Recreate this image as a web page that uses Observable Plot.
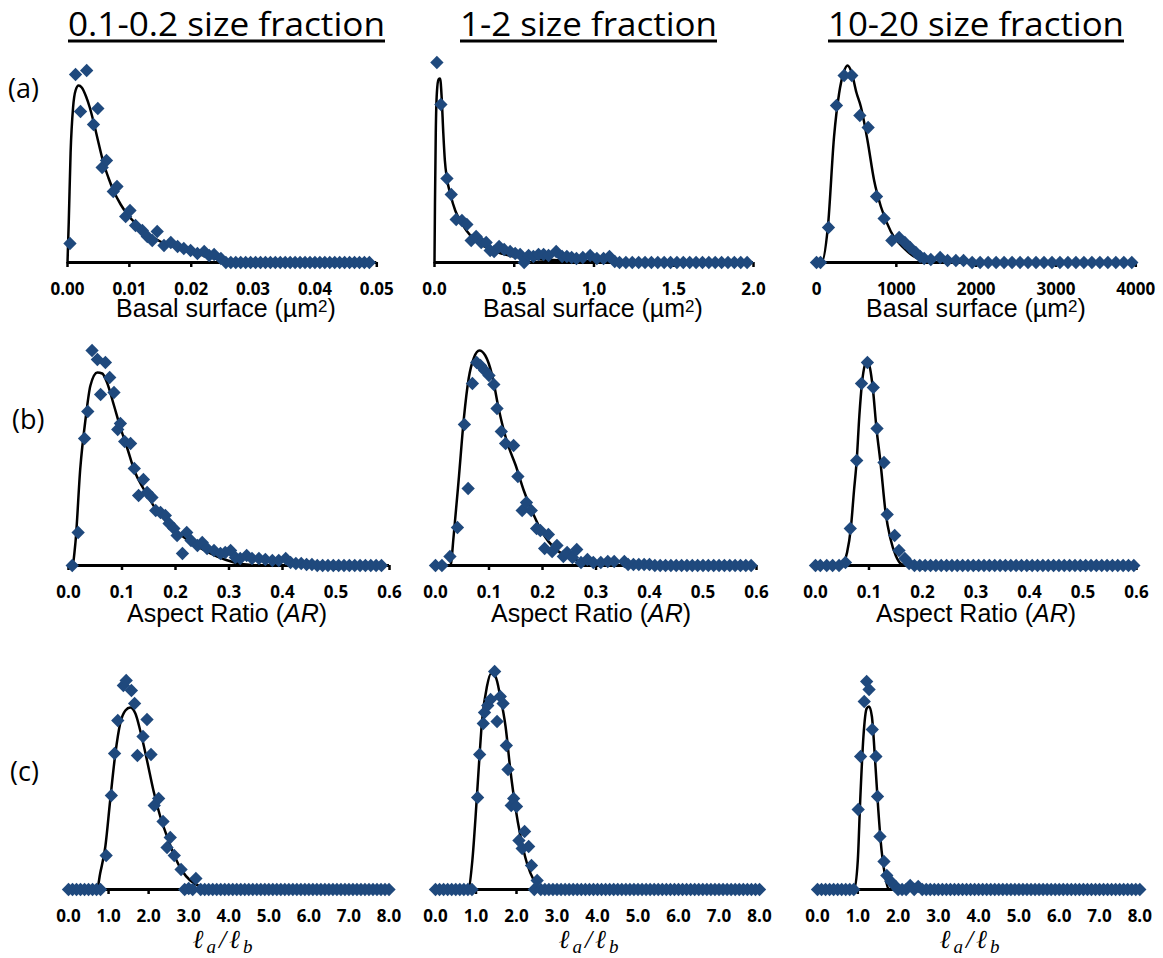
<!DOCTYPE html>
<html><head><meta charset="utf-8">
<script src="https://cdn.jsdelivr.net/npm/d3@7"></script>
<script src="https://cdn.jsdelivr.net/npm/@observablehq/plot@0.6"></script>
<style>
html,body{margin:0;padding:0;background:#fff;}
#wrap{position:relative;width:1163px;height:958px;overflow:hidden;background:#fff;}
#overlay{position:absolute;left:0;top:0;pointer-events:none;}
</style></head>
<body><div id="wrap"></div>
<script>
// ---------- text ----------
const colTitles = ["0.1-0.2 size fraction", "1-2 size fraction", "10-20 size fraction"];
const rowLabels = ["(a)", "(b)", "(c)"];
const basalLabel = ["Basal surface (µm", "2", ")"];
const arLabel = ["Aspect Ratio (", "AR", ")"];
const ratioLabel = ["ℓ", "a", "/ℓ", "b"];

// ---------- tick values ----------
const a1Ticks = [0, 0.01, 0.02, 0.03, 0.04, 0.05];
const a2Ticks = [0, 0.5, 1.0, 1.5, 2.0];
const a3Ticks = [0, 1000, 2000, 3000, 4000];
const bTicks = [0, 0.1, 0.2, 0.3, 0.4, 0.5, 0.6];
const cTicks = [0, 1, 2, 3, 4, 5, 6, 7, 8];

// ---------- (a) basal surface ----------
const a1PointX = [0.0004,0.0013,0.0021,0.0031,0.0042,0.0049,0.0056,0.0063,0.0074,0.0080,0.0094,0.0101,0.0110,0.0121,0.0129,0.0137,0.0145,0.0156,0.0167,0.0178,0.0188,0.0199,0.0210,0.0221,0.0229,0.0237,0.0248,
  0.0256,0.0264,0.0272,0.0280,0.0288,0.0296,0.0304,0.0312,0.0320,0.0328,0.0336,0.0344,0.0352,0.0360,0.0368,0.0376,0.0384,0.0392,0.0400,0.0408,0.0416,0.0424,0.0432,0.0440,0.0448,0.0456,0.0464,0.0472,0.0480,0.0488];
const a1PointY = [19,188,151,192,138,154,95,102,71,76,46,52,37,32,26,22,31,17,20,16,14,12,9,11,7,8,4,
  0,0,0,0,0,0,0,0,0,0, 0,0,0,0,0,0,0,0,0,0, 0,0,0,0,0,0,0,0,0,0];
const a1CurveX = [0,0.0002,0.0005,0.0009,0.0013,0.0018,0.0023,0.0030,0.0036,0.0042,0.0050,0.0058,0.0066,0.0075,0.0086,0.0097,0.0110,0.0129,0.0150,0.0175,0.0200,0.0226,0.0250,0.0280];
const a1CurveY = [0,40,110,155,172,177,175,166,155,141,120,100,85,71,58,48,39,29,21,15,10,6,2,0];

const a2PointX = [0.015,0.040,0.078,0.105,0.136,0.172,0.203,0.230,0.261,0.293,0.324,0.349,0.374,0.405,0.437,0.474,0.506,0.537,0.562,0.590,0.620,0.652,0.684,0.715,0.763,0.800,0.830,0.860,0.890,0.930,0.976,1.018,1.060,1.097,1.130,
  1.16,1.20,1.24,1.28,1.32,1.36,1.40,1.44,1.48,1.52,1.56,1.60,1.64,1.68,1.72,1.76,1.80,1.84,1.88,1.92,1.96];
const a2PointY = [200,158,84,68,43,42,38,22,26,20,20,12,11,16,13,11,9,8,0,7,6,8,8,7,11,6,6,5,4,5,7,4,4,6,1,
  0,0,0,0,0,0,0,0,0,0, 0,0,0,0,0,0,0,0,0,0, 0];
const a2CurveX = [0,0.003,0.008,0.015,0.025,0.035,0.045,0.055,0.065,0.078,0.100,0.130,0.160,0.200,0.250,0.300,0.350,0.400,0.500,0.600,0.800,1.000,1.200,1.500];
const a2CurveY = [0,60,130,170,183,184,165,130,102,84,68,52,42,32,23,17,13,10,6,4,2,1,0.3,0];

const a3PointX = [0,50,150,250,346,442,543,647,752,847,944,1035,1107,1173,1244,1298,1349,1432,1549,1642,1746,1842,
  1950,2050,2150,2250,2350,2450,2550,2650,2750,2850,2950,3050,3150,3250,3350,3450,3550,3650,3750,3850,3950];
const a3PointY = [0,0,35,157,187,187,147,135,66,44,22,25,20,15,10,6,4,3,5,2,2,2,
  0,0,0,0,0,0,0,0,0,0, 0,0,0,0,0,0,0,0,0,0, 0];
const a3CurveX = [0,63,143,220,283,340,388,440,500,555,639,722,806,931,1098,1265,1390,1560];
const a3CurveY = [0,0,36,126,169,190,197,190,170,156,122,82,56,31,14,4,1,0];

// ---------- (b) aspect ratio ----------
const b1PointX = [0.007,0.018,0.030,0.036,0.044,0.054,0.060,0.069,0.077,0.085,0.092,0.097,0.105,0.116,0.123,0.131,0.140,0.147,0.156,0.163,0.172,0.181,0.188,0.197,0.203,0.213,0.221,0.229,0.241,0.250,0.259,0.272,0.284,0.293,0.303,0.312,0.321,0.333,0.343,0.356,0.368,0.381,0.393,0.406,0.415,
  0.425,0.435,0.445,0.455,0.465,0.475,0.485,0.495,0.505,0.515,0.525,0.535,0.545,0.555,0.565,0.575,0.585];
const b1PointY = [0,33,127,154,215,206,171,203,188,173,136,142,124,122,97,70,86,73,68,55,53,50,42,37,30,12,33,25,20,23,17,15,12,13,15,8,7,10,7,7,6,5,5,7,3,
  2,2,1,1,0,0,0,0,0,0, 0,0,0,0,0,0,0];
const b1CurveX = [0,0.007,0.013,0.022,0.032,0.041,0.054,0.063,0.072,0.085,0.097,0.110,0.123,0.141,0.160,0.184,0.209,0.241,0.278,0.310,0.350];
const b1CurveY = [0,0,23,97,147,180,193,192,183,160,138,117,95,76,59,43,31,19,9,3,0];

const b2PointX = [0,0.012,0.027,0.041,0.054,0.061,0.069,0.077,0.084,0.092,0.100,0.109,0.115,0.123,0.131,0.146,0.154,0.162,0.170,0.179,0.189,0.196,0.204,0.211,0.218,0.227,0.239,0.246,0.256,0.264,0.272,0.284,0.295,0.309,0.322,0.334,0.353,
  0.36,0.37,0.38,0.39,0.40,0.41,0.42,0.43,0.44,0.45,0.46,0.47,0.48,0.49,0.50,0.51,0.52,0.53,0.54,0.55,0.56,0.57,0.58,0.59];
const b2PointY = [0,0,9,38,141,77,182,203,200,195,190,181,157,134,122,120,89,55,63,55,37,35,17,31,14,20,9,13,8,16,3,6,3,3,4,4,4,
  1,1,1,1,1,0,0,0,0,0, 0,0,0,0,0,0,0,0,0,0, 0,0,0,0];
const b2CurveX = [0,0.028,0.034,0.044,0.053,0.062,0.072,0.082,0.093,0.106,0.118,0.134,0.150,0.165,0.184,0.202,0.221,0.246,0.271,0.296,0.320];
const b2CurveY = [0,0,30,90,147,187,208,215,210,190,157,123,100,75,50,31,18,9,4,1,0];

const b3PointX = [0,0.009,0.021,0.032,0.044,0.056,0.065,0.077,0.086,0.097,0.108,0.115,0.128,0.134,0.148,0.156,0.167,0.175,
  0.185,0.195,0.205,0.215,0.225,0.235,0.245,0.255,0.265,0.275,0.285,0.295,0.305,0.315,0.325,0.335,0.345,0.355,0.365,0.375,
  0.385,0.395,0.405,0.415,0.425,0.435,0.445,0.455,0.465,0.475,0.485,0.495,0.505,0.515,0.525,0.535,0.545,0.555,0.565,0.575,0.585,0.595];
const b3PointY = [0,0,0,0,0,3,37,105,182,203,178,137,103,51,30,15,7,2,
  0,0,0,0,0,0,0,0,0,0, 0,0,0,0,0,0,0,0,0,0, 0,0,0,0,0,0,0,0,0,0, 0,0,0,0,0,0,0,0,0,0, 0,0];
const b3CurveX = [0,0.048,0.053,0.059,0.066,0.072,0.077,0.082,0.087,0.092,0.097,0.102,0.107,0.114,0.1215,0.131,0.140,0.150,0.159,0.168];
const b3CurveY = [0,0,3,13,37,75,105,150,183,200,205,197,178,137,103,53,27,10,2,0];

// ---------- (c) la/lb ----------
const c1PointX = [0.0,0.1,0.2,0.3,0.4,0.5,0.6,0.7,0.8,
  0.94,1.07,1.15,1.23,1.37,1.44,1.57,1.65,1.72,1.86,1.96,2.06,2.14,2.25,2.36,2.46,2.54,2.64,2.81,2.9,3.0,3.1,3.18,
  3.3,3.4,3.5,3.6,3.7,3.8,3.9,4.0,4.1,4.2,4.3,4.4,4.5,4.6,4.7,4.8,4.9,5.0,5.1,5.2,5.3,5.4,5.5,5.6,5.7,5.8,5.9,6.0,6.1,6.2,6.3,6.4,6.5,6.6,6.7,6.8,6.9,7.0,7.1,7.2,7.3,7.4,7.5,7.6,7.7,7.8,7.9,8.0];
const c1PointY = [0,0,0,0,0,0,0,0,0,
  34,94,136,169,204,209,199,186,134,153,170,135,84,91,68,42,52,34,20,0,1,0,11,
  0,0,0,0,0,0,0,0,0,0, 0,0,0,0,0,0,0,0,0,0, 0,0,0,0,0,0,0,0,0,0, 0,0,0,0,0,0,0,0,0,0, 0,0,0,0,0,0,0,0];
const c1CurveX = [0,0.71,0.79,0.92,1.04,1.17,1.29,1.42,1.54,1.67,1.79,1.96,2.12,2.29,2.46,2.62,2.83,3.04,3.29,3.54];
const c1CurveY = [0,0,16,43,89,136,166,179,182,176,159,129,99,73,53,36,19,9,3,0];

const c2PointX = [0.0,0.1,0.2,0.3,0.4,0.5,0.6,0.7,0.8,0.9,
  1.04,1.09,1.18,1.21,1.29,1.36,1.46,1.52,1.60,1.67,1.75,1.79,1.87,1.93,2.00,2.06,2.14,2.20,2.30,2.37,2.44,2.51,
  2.6,2.7,2.8,2.9,3.0,3.1,3.2,
  3.3,3.4,3.5,3.6,3.7,3.8,3.9,4.0,4.1,4.2,4.3,4.4,4.5,4.6,4.7,4.8,4.9,5.0,5.1,5.2,5.3,5.4,5.5,5.6,5.7,5.8,5.9,6.0,6.1,6.2,6.3,6.4,6.5,6.6,6.7,6.8,6.9,7.0,7.1,7.2,7.3,7.4,7.5,7.6,7.7,7.8,7.9,8.0];
const c2PointY = [0,0,0,0,0,0,0,0,0,0,
  92,135,166,177,184,190,218,168,193,186,144,120,84,91,83,49,41,58,43,24,0,9,
  0,0,0,0,0,0,0,
  0,0,0,0,0,0,0,0,0,0, 0,0,0,0,0,0,0,0,0,0, 0,0,0,0,0,0,0,0,0,0, 0,0,0,0,0,0,0,0,0,0, 0,0,0,0,0,0,0,0];
const c2CurveX = [0,0.80,0.91,0.99,1.07,1.15,1.27,1.37,1.48,1.60,1.73,1.85,1.97,2.10,2.26,2.43,2.59,2.75];
const c2CurveY = [0,0,29,73,123,169,203,216,213,193,163,119,83,53,26,9,1,0];

const c3PointX = [0.0,0.1,0.2,0.3,0.4,0.5,0.6,0.7,0.8,0.9,
  1.01,1.07,1.16,1.22,1.28,1.36,1.45,1.49,1.55,1.65,1.72,1.82,1.94,
  2.0,2.1,2.2,2.3,2.4,2.5,2.6,2.7,2.8,2.9,3.0,3.1,3.2,
  3.3,3.4,3.5,3.6,3.7,3.8,3.9,4.0,4.1,4.2,4.3,4.4,4.5,4.6,4.7,4.8,4.9,5.0,5.1,5.2,5.3,5.4,5.5,5.6,5.7,5.8,5.9,6.0,6.1,6.2,6.3,6.4,6.5,6.6,6.7,6.8,6.9,7.0,7.1,7.2,7.3,7.4,7.5,7.6,7.7,7.8,7.9,8.0];
const c3PointY = [0,0,0,0,0,0,0,0,0,0,
  80,133,188,208,200,160,133,93,53,28,14,8,3,
  0,0,0,4,0,3,0,0,0,0,0,0,0,
  0,0,0,0,0,0,0,0,0,0, 0,0,0,0,0,0,0,0,0,0, 0,0,0,0,0,0,0,0,0,0, 0,0,0,0,0,0,0,0,0,0, 0,0,0,0,0,0,0,0];
const c3CurveX = [0,0.91,1.00,1.06,1.14,1.22,1.28,1.35,1.43,1.51,1.59,1.68,1.76,1.84];
const c3CurveY = [0,0,29,89,153,181,183,173,129,79,39,13,1,0];

// ---------- layout (pixel placement of each panel's axis) ----------
const layout = {
  a1: {left: 66.7, right: 376, base: 262.3},
  a2: {left: 434.3, right: 753.3, base: 262.3},
  a3: {left: 815.7, right: 1135, base: 262.3},
  b1: {left: 68, right: 389, base: 565},
  b2: {left: 435, right: 756, base: 565},
  b3: {left: 815, right: 1136, base: 565},
  c1: {left: 67.5, right: 388, base: 889.3},
  c2: {left: 435, right: 759, base: 889.3},
  c3: {left: 816.7, right: 1139, base: 889.3}
};

const panels = [
  {key: "a1", px: a1PointX, py: a1PointY, cx: a1CurveX, cy: a1CurveY, domain: [0, 0.05], ticks: a1Ticks, fmt: ".2f"},
  {key: "a2", px: a2PointX, py: a2PointY, cx: a2CurveX, cy: a2CurveY, domain: [0, 2], ticks: a2Ticks, fmt: ".1f"},
  {key: "a3", px: a3PointX, py: a3PointY, cx: a3CurveX, cy: a3CurveY, domain: [0, 4000], ticks: a3Ticks, fmt: "d"},
  {key: "b1", px: b1PointX, py: b1PointY, cx: b1CurveX, cy: b1CurveY, domain: [0, 0.6], ticks: bTicks, fmt: ".1f"},
  {key: "b2", px: b2PointX, py: b2PointY, cx: b2CurveX, cy: b2CurveY, domain: [0, 0.6], ticks: bTicks, fmt: ".1f"},
  {key: "b3", px: b3PointX, py: b3PointY, cx: b3CurveX, cy: b3CurveY, domain: [0, 0.6], ticks: bTicks, fmt: ".1f"},
  {key: "c1", px: c1PointX, py: c1PointY, cx: c1CurveX, cy: c1CurveY, domain: [0, 8], ticks: cTicks, fmt: ".1f"},
  {key: "c2", px: c2PointX, py: c2PointY, cx: c2CurveX, cy: c2CurveY, domain: [0, 8], ticks: cTicks, fmt: ".1f"},
  {key: "c3", px: c3PointX, py: c3PointY, cx: c3CurveX, cy: c3CurveY, domain: [0, 8], ticks: cTicks, fmt: ".1f"}
];

const wrap = document.getElementById("wrap");
const BLUE = "#1F497D";
const M = 30, MT = 15, MB = 50, H = 220;

for (const p of panels) {
  const L = layout[p.key];
  const pts = p.px.map((x, i) => ({x, y: p.py[i]}));
  const crv = p.cx.map((x, i) => ({x, y: p.cy[i]}));
  const svg = Plot.plot({
    width: (L.right - L.left) + 2 * M,
    height: H + MT + MB,
    marginLeft: M, marginRight: M, marginTop: MT, marginBottom: MB,
    x: {domain: p.domain},
    y: {domain: [0, H], axis: null},
    style: {background: "transparent", overflow: "visible", maxWidth: "none",
      fontSize: "17px", fontWeight: "bold", fontFamily: "'Open Sans', sans-serif"},
    marks: [
      Plot.ruleY([{y: 0, x1: p.domain[0], x2: p.domain[1]}], {y: "y", x1: "x1", x2: "x2", stroke: "#000", strokeWidth: 3}),
      Plot.axisX({ticks: p.ticks, tickFormat: d3.format(p.fmt), tickSize: 5, tickPadding: 15,
        strokeWidth: 2.5, fontSize: 17, fontWeight: "bold", fontFamily: "'Open Sans', sans-serif", label: null}),
      Plot.line(crv, {x: "x", y: "y", curve: "monotone-x", stroke: "#000", strokeWidth: 2.5}),
      Plot.dot(pts, {x: "x", y: "y", symbol: "diamond2", r: 6, fill: BLUE, stroke: "none"})
    ]
  });
  const div = document.createElement("div");
  div.style.cssText = `position:absolute;left:${L.left - M}px;top:${L.base - H - MT}px;`;
  div.appendChild(svg);
  wrap.appendChild(div);
}

// ---------- overlay text ----------
const ov = d3.select("#wrap").append("svg").attr("id", "overlay").attr("width", 1163).attr("height", 958);
const titlePos = [{x: 68, w: 317}, {x: 460, w: 257}, {x: 828, w: 296}];
colTitles.forEach((t, i) => {
  ov.append("text").attr("x", titlePos[i].x).attr("y", 35.5)
    .attr("font-family", "'Open Sans', sans-serif").attr("font-size", 33)
    .attr("textLength", titlePos[i].w).attr("lengthAdjust", "spacingAndGlyphs")
    .attr("fill", "#000").text(t);
  ov.append("line").attr("x1", titlePos[i].x).attr("x2", titlePos[i].x + titlePos[i].w)
    .attr("y1", 41).attr("y2", 41).attr("stroke", "#000").attr("stroke-width", 3);
});

const rowLabelPos = [{x: 8, y: 98}, {x: 12, y: 429}, {x: 10, y: 781}];
rowLabels.forEach((t, i) => {
  ov.append("text").attr("x", rowLabelPos[i].x).attr("y", rowLabelPos[i].y)
    .attr("font-family", "'Open Sans', sans-serif").attr("font-size", 27).attr("fill", "#000").text(t);
});

const sansTitle = "'Liberation Sans', Arial, sans-serif";
[226, 593, 976].forEach(cx => {
  const t = ov.append("text").attr("x", cx).attr("y", 317).attr("text-anchor", "middle")
    .attr("font-family", sansTitle).attr("font-size", 25).attr("fill", "#000");
  t.append("tspan").text(basalLabel[0]);
  t.append("tspan").attr("dy", -5.5).attr("font-size", 17).text(basalLabel[1]);
  t.append("tspan").attr("dy", 5.5).text(basalLabel[2]);
});
[227, 591, 976].forEach(cx => {
  const t = ov.append("text").attr("x", cx).attr("y", 622).attr("text-anchor", "middle")
    .attr("font-family", sansTitle).attr("font-size", 25).attr("fill", "#000");
  t.append("tspan").text(arLabel[0]);
  t.append("tspan").attr("font-style", "italic").text(arLabel[1]);
  t.append("tspan").text(arLabel[2]);
});
[224, 590, 971].forEach(cx => {
  const t = ov.append("text").attr("x", cx).attr("y", 948).attr("text-anchor", "middle")
    .attr("font-family", "'Liberation Serif', 'DejaVu Serif', serif").attr("font-style", "italic")
    .attr("font-size", 26).attr("letter-spacing", 3).attr("fill", "#000");
  t.append("tspan").text(ratioLabel[0]);
  t.append("tspan").attr("dy", 5).attr("font-size", 19).text(ratioLabel[1]);
  t.append("tspan").attr("dy", -5).text(ratioLabel[2]);
  t.append("tspan").attr("dy", 5).attr("font-size", 19).text(ratioLabel[3]);
});
</script>
</body></html>
